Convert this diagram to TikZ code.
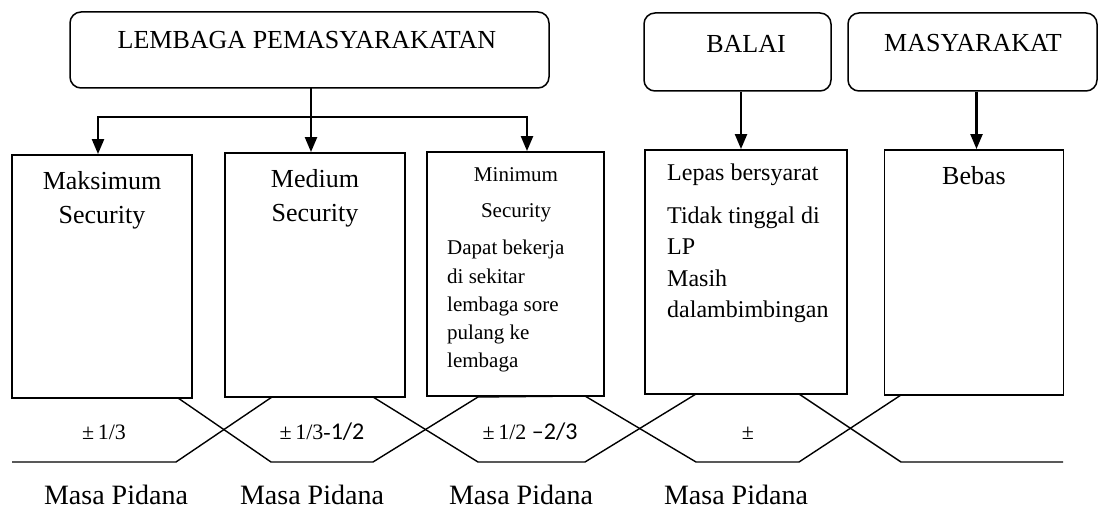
\documentclass[tikz,border=0pt]{standalone}
\usepackage{fontspec}
\setmainfont{Liberation Serif}
\newfontfamily\carlito{Carlito}
\usetikzlibrary{arrows.meta}

\begin{document}
\begin{tikzpicture}[x=1pt,y=-1pt,
    hdrbox/.style={draw, line width=1.5pt, rounded corners=11pt, inner sep=0pt},
    secbox/.style={draw, line width=1.9pt, inner sep=0pt},
    link/.style={line width=2.3pt, line cap=rect},
    arr/.style={line width=2.3pt, -{Triangle[length=15pt,width=12pt]}},
    band/.style={line width=1.4pt},
    bigtext/.style={font=\fontsize{26}{34}\selectfont, anchor=base, inner sep=0pt, align=center},
    midtext/.style={font=\fontsize{22}{22}\selectfont, anchor=base, inner sep=0pt},
    masa/.style={font=\fontsize{28}{28}\selectfont, anchor=base, inner sep=0pt}]
\useasboundingbox (0,0) rectangle (1104,510);
% top boxes
\node[hdrbox, minimum width=479, minimum height=76] (lp) at (309.5,50) {};
\node[hdrbox, minimum width=187, minimum height=78] (balai) at (737.5,52) {};
\node[hdrbox, minimum width=249, minimum height=78] (masy) at (972.5,52) {};
\node[bigtext] (lptext) at (307,49) {LEMBAGA PEMASYARAKATAN};
\node[bigtext] (balaitext) at (746,53) {BALAI};
\node[bigtext] (masytext) at (973,52) {MASYARAKAT};
% section boxes
\node[secbox, minimum width=180, minimum height=243] (maks) at (102,276.5) {};
\node[secbox, minimum width=180, minimum height=244] (med) at (315,275) {};
\node[secbox, minimum width=177, minimum height=244] (mini) at (515.5,274) {};
\node[secbox, minimum width=202, minimum height=244] (lepas) at (746,272) {};
\node[secbox, minimum width=179, minimum height=245] (bebas) at (974,272.5) {};
% arrows
\coordinate (split) at (311,117);
\coordinate (left) at (98,117);
\coordinate (right) at (527,117);
\draw[link] (split |- lp.south) -- (split);
\draw[link] (left) -- (right);
\draw[arr] (left) -- (left |- maks.north);
\draw[arr] (split) -- (split |- med.north);
\draw[arr] (right) -- (right |- mini.north);
\draw[arr] ([xshift=3.5pt]balai.south) -- ([xshift=3.5pt]balai.south |- lepas.north);
\draw[arr] ([xshift=4pt]masy.south) -- ([xshift=4pt]masy.south |- bebas.north);
% box texts (base = last line)
\node[bigtext] (makstext) at (102,224) {Maksimum\\Security};
\node[bigtext] (medtext) at (315,222) {Medium\\Security};
\node[font=\fontsize{21}{36}\selectfont, anchor=base, inner sep=0pt, align=center] (minitext) at (516,218) {Minimum\\Security};
\node[font=\fontsize{21}{28.3}\selectfont, anchor=base west, inner sep=0pt, align=left] (minibody) at (447,368)
  {Dapat bekerja\\di sekitar\\lembaga sore\\pulang ke\\lembaga};
\node[font=\fontsize{24}{31.5}\selectfont, anchor=base west, inner sep=0pt, align=left] (lepastext) at (667,318)
  {Lepas bersyarat\\[11.5pt]Tidak tinggal di\\LP\\Masih\\dalambimbingan};
\node[bigtext] (bebastext) at (974,185) {Bebas};
% masa pidana bands
\draw[band] (12,398) -- (178,398) -- (271,462) -- (373,462) -- (478,397) -- (585,396)
  -- (696,462) -- (799,462) -- (901,395) -- (1063,395);
\draw[band] (12,462) -- (176,462) -- (272,397) -- (373,397) -- (478,462) -- (585,462)
  -- (696,394) -- (799,394) -- (901,462) -- (1063,462);
\node[midtext] (frac1) at (104,440) {±\,1/3};
\node[midtext] (frac2) at (322,440) {±\,1/3-{\carlito\fontsize{24}{24}\selectfont 1/2}};
\node[midtext] (frac3) at (530,440) {±\,1/2 {\carlito\fontsize{24}{24}\selectfont –2/3}};
\node[midtext] (frac4) at (748,440) {±};
\node[masa] (masa1) at (116,505) {Masa Pidana};
\node[masa] (masa2) at (312,505) {Masa Pidana};
\node[masa] (masa3) at (521,505) {Masa Pidana};
\node[masa] (masa4) at (736,505) {Masa Pidana};
\end{tikzpicture}
\end{document}
